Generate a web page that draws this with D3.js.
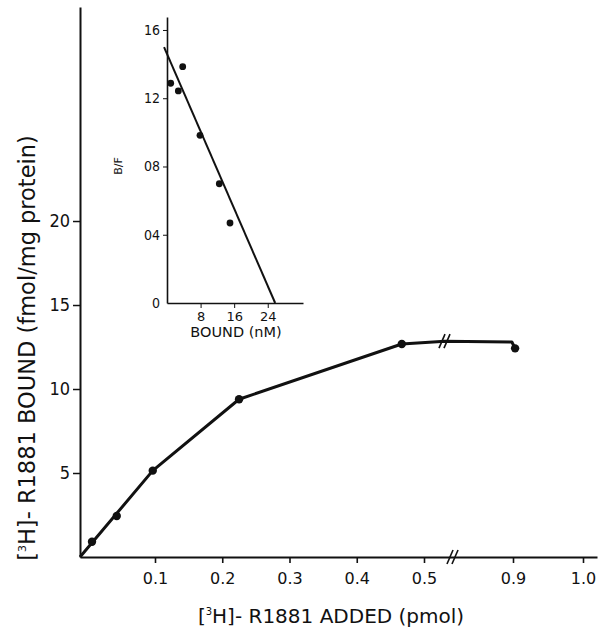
<!DOCTYPE html>
<html>
<head>
<meta charset="utf-8">
<script src="https://cdn.jsdelivr.net/npm/d3@7"></script>
<style>
    body { margin: 0; background: #fff; }
    svg { display: block; }
    text { fill: #111; font-family: 'DejaVu Sans', sans-serif; }
    .axis path, .axis line { stroke: #111; }
    .ytick text { font-family: 'Liberation Sans Narrow', 'DejaVu Sans Condensed', sans-serif; }
</style>
</head>
<body>
<svg id="chart" width="604" height="639"></svg>
<script>
// main curve: [3H]-R1881 added (pmol) vs bound (fmol/mg protein)
const addedPmol = [0.016, 0.049, 0.097, 0.225, 0.467, 0.903];
const boundFmol = [0.91, 2.44, 5.14, 9.39, 12.68, 12.42];

// hand-drawn line through the points
const curveX = [0, 0.097, 0.225, 0.467, 0.594, 0.895, 0.903];
const curveY = [0, 5.14, 9.39, 12.68, 12.85, 12.8, 12.42];

const xTicks = [0.1, 0.2, 0.3, 0.4, 0.5, 0.9, 1.0];
const yTicks = [5, 10, 15, 20];

// inset: scatchard plot
const insetBound = [0.88, 2.69, 3.73, 7.84, 12.43, 14.97];
const insetBF = [12.88, 12.43, 13.85, 9.83, 6.99, 4.69];
const insetLineX = [-0.7, 25.7];
const insetLineY = [15.0, 0];
const insetXTicks = [8, 16, 24];
const insetYTicks = [0, 4, 8, 12, 16];
const insetYLabels = ['0', '04', '08', '12', '16'];

const svg = d3.select('#chart');

// broken x axis: 0-0.5 then 0.9-1.0
const x = d3.scaleLinear()
    .domain([0, 0.1, 0.5, 0.9, 1.02])
    .range([80, 155, 424, 513, 597]);
const y = d3.scaleLinear()
    .domain([0, 32.74])
    .range([557, 7]);

const xAxis = svg.append('g')
    .attr('class', 'axis')
    .attr('transform', `translate(0, ${y(0)})`)
    .call(d3.axisBottom(x)
        .tickValues(xTicks)
        .tickFormat(d => d.toFixed(1))
        .tickSizeInner(6)
        .tickSizeOuter(0)
        .tickPadding(10));
xAxis.select('.domain').attr('stroke-width', 2.2);
xAxis.selectAll('.tick line').attr('stroke-width', 1.6);
xAxis.selectAll('.tick text').attr('font-size', 16);

const yAxis = svg.append('g')
    .attr('class', 'axis ytick')
    .attr('transform', `translate(${x(0)}, 0)`)
    .call(d3.axisLeft(y)
        .tickValues(yTicks)
        .tickSizeInner(7)
        .tickSizeOuter(0)
        .tickPadding(3));
yAxis.select('.domain').attr('stroke-width', 2);
yAxis.selectAll('.tick line').attr('stroke-width', 1.5);
yAxis.selectAll('.tick text').attr('font-size', 18);

// break marks
const brk = (cx, cy) => {
    [-3, 2].forEach(off => {
        svg.append('line')
            .attr('x1', cx + off - 3).attr('y1', cy + 7)
            .attr('x2', cx + off + 3).attr('y2', cy - 7)
            .attr('stroke', '#111').attr('stroke-width', 1.6);
    });
};
brk(453, y(0));

const line = d3.line()
    .x(d => x(d[0]))
    .y(d => y(d[1]));

svg.append('path')
    .datum(d3.zip(curveX, curveY))
    .attr('d', line)
    .attr('fill', 'none')
    .attr('stroke', '#111')
    .attr('stroke-width', 3)
    .attr('stroke-linejoin', 'round');
brk(445, y(12.85));

svg.append('g').selectAll('circle')
    .data(d3.zip(addedPmol, boundFmol))
    .join('circle')
    .attr('cx', d => x(d[0]))
    .attr('cy', d => y(d[1]))
    .attr('r', 4.2)
    .attr('fill', '#111');

// axis titles
const xTitle = svg.append('text')
    .attr('x', 331)
    .attr('y', 623)
    .attr('text-anchor', 'middle')
    .attr('font-size', 20);
xTitle.append('tspan').text('[');
xTitle.append('tspan').text('3').attr('font-size', 10).attr('dy', -8);
xTitle.append('tspan').text('H]- R1881 ADDED (pmol)').attr('dy', 8);

const yTitle = svg.append('text')
    .attr('transform', 'translate(35, 348) rotate(-90)')
    .attr('text-anchor', 'middle')
    .attr('font-size', 22.5);
yTitle.append('tspan').text('[');
yTitle.append('tspan').text('3').attr('font-size', 11).attr('dy', -9);
yTitle.append('tspan').text('H]- R1881 BOUND (fmol/mg protein)').attr('dy', 9);

// inset
const ix = d3.scaleLinear().domain([0, 24]).range([167, 268]);
const iy = d3.scaleLinear().domain([0, 16]).range([303, 30]);

const ixAxis = svg.append('g')
    .attr('class', 'axis')
    .attr('transform', `translate(0, ${iy(0)})`)
    .call(d3.axisBottom(ix.copy().domain([0, 32.4]).range([167, 303]))
        .tickValues(insetXTicks)
        .tickSizeInner(5)
        .tickSizeOuter(0)
        .tickPadding(4));
ixAxis.select('.domain').attr('stroke-width', 1.6);
ixAxis.selectAll('.tick text').attr('font-size', 13);

const iyAxis = svg.append('g')
    .attr('class', 'axis ytick')
    .attr('transform', `translate(${ix(0)}, 0)`)
    .call(d3.axisLeft(iy.copy().domain([0, 16.76]).range([303, 17]))
        .tickValues(insetYTicks)
        .tickFormat((d, i) => insetYLabels[i])
        .tickSizeInner(4)
        .tickSizeOuter(0)
        .tickPadding(3));
iyAxis.select('.domain').attr('stroke-width', 1.6);
iyAxis.selectAll('.tick text').attr('font-size', 14);
// the zero tick has no mark
iyAxis.selectAll('.tick').filter(d => d === 0).select('line').remove();

svg.append('path')
    .datum(d3.zip(insetLineX, insetLineY))
    .attr('d', d3.line().x(d => ix(d[0])).y(d => iy(d[1])))
    .attr('fill', 'none')
    .attr('stroke', '#111')
    .attr('stroke-width', 2);

svg.append('g').selectAll('circle')
    .data(d3.zip(insetBound, insetBF))
    .join('circle')
    .attr('cx', d => ix(d[0]))
    .attr('cy', d => iy(d[1]))
    .attr('r', 3.4)
    .attr('fill', '#111');

svg.append('text')
    .attr('x', 236)
    .attr('y', 337)
    .attr('text-anchor', 'middle')
    .attr('font-size', 14.5)
    .text('BOUND (nM)');

svg.append('text')
    .attr('transform', 'translate(122, 166) rotate(-90)')
    .attr('text-anchor', 'middle')
    .attr('font-size', 11)
    .text('B/F');
</script>
</body>
</html>
